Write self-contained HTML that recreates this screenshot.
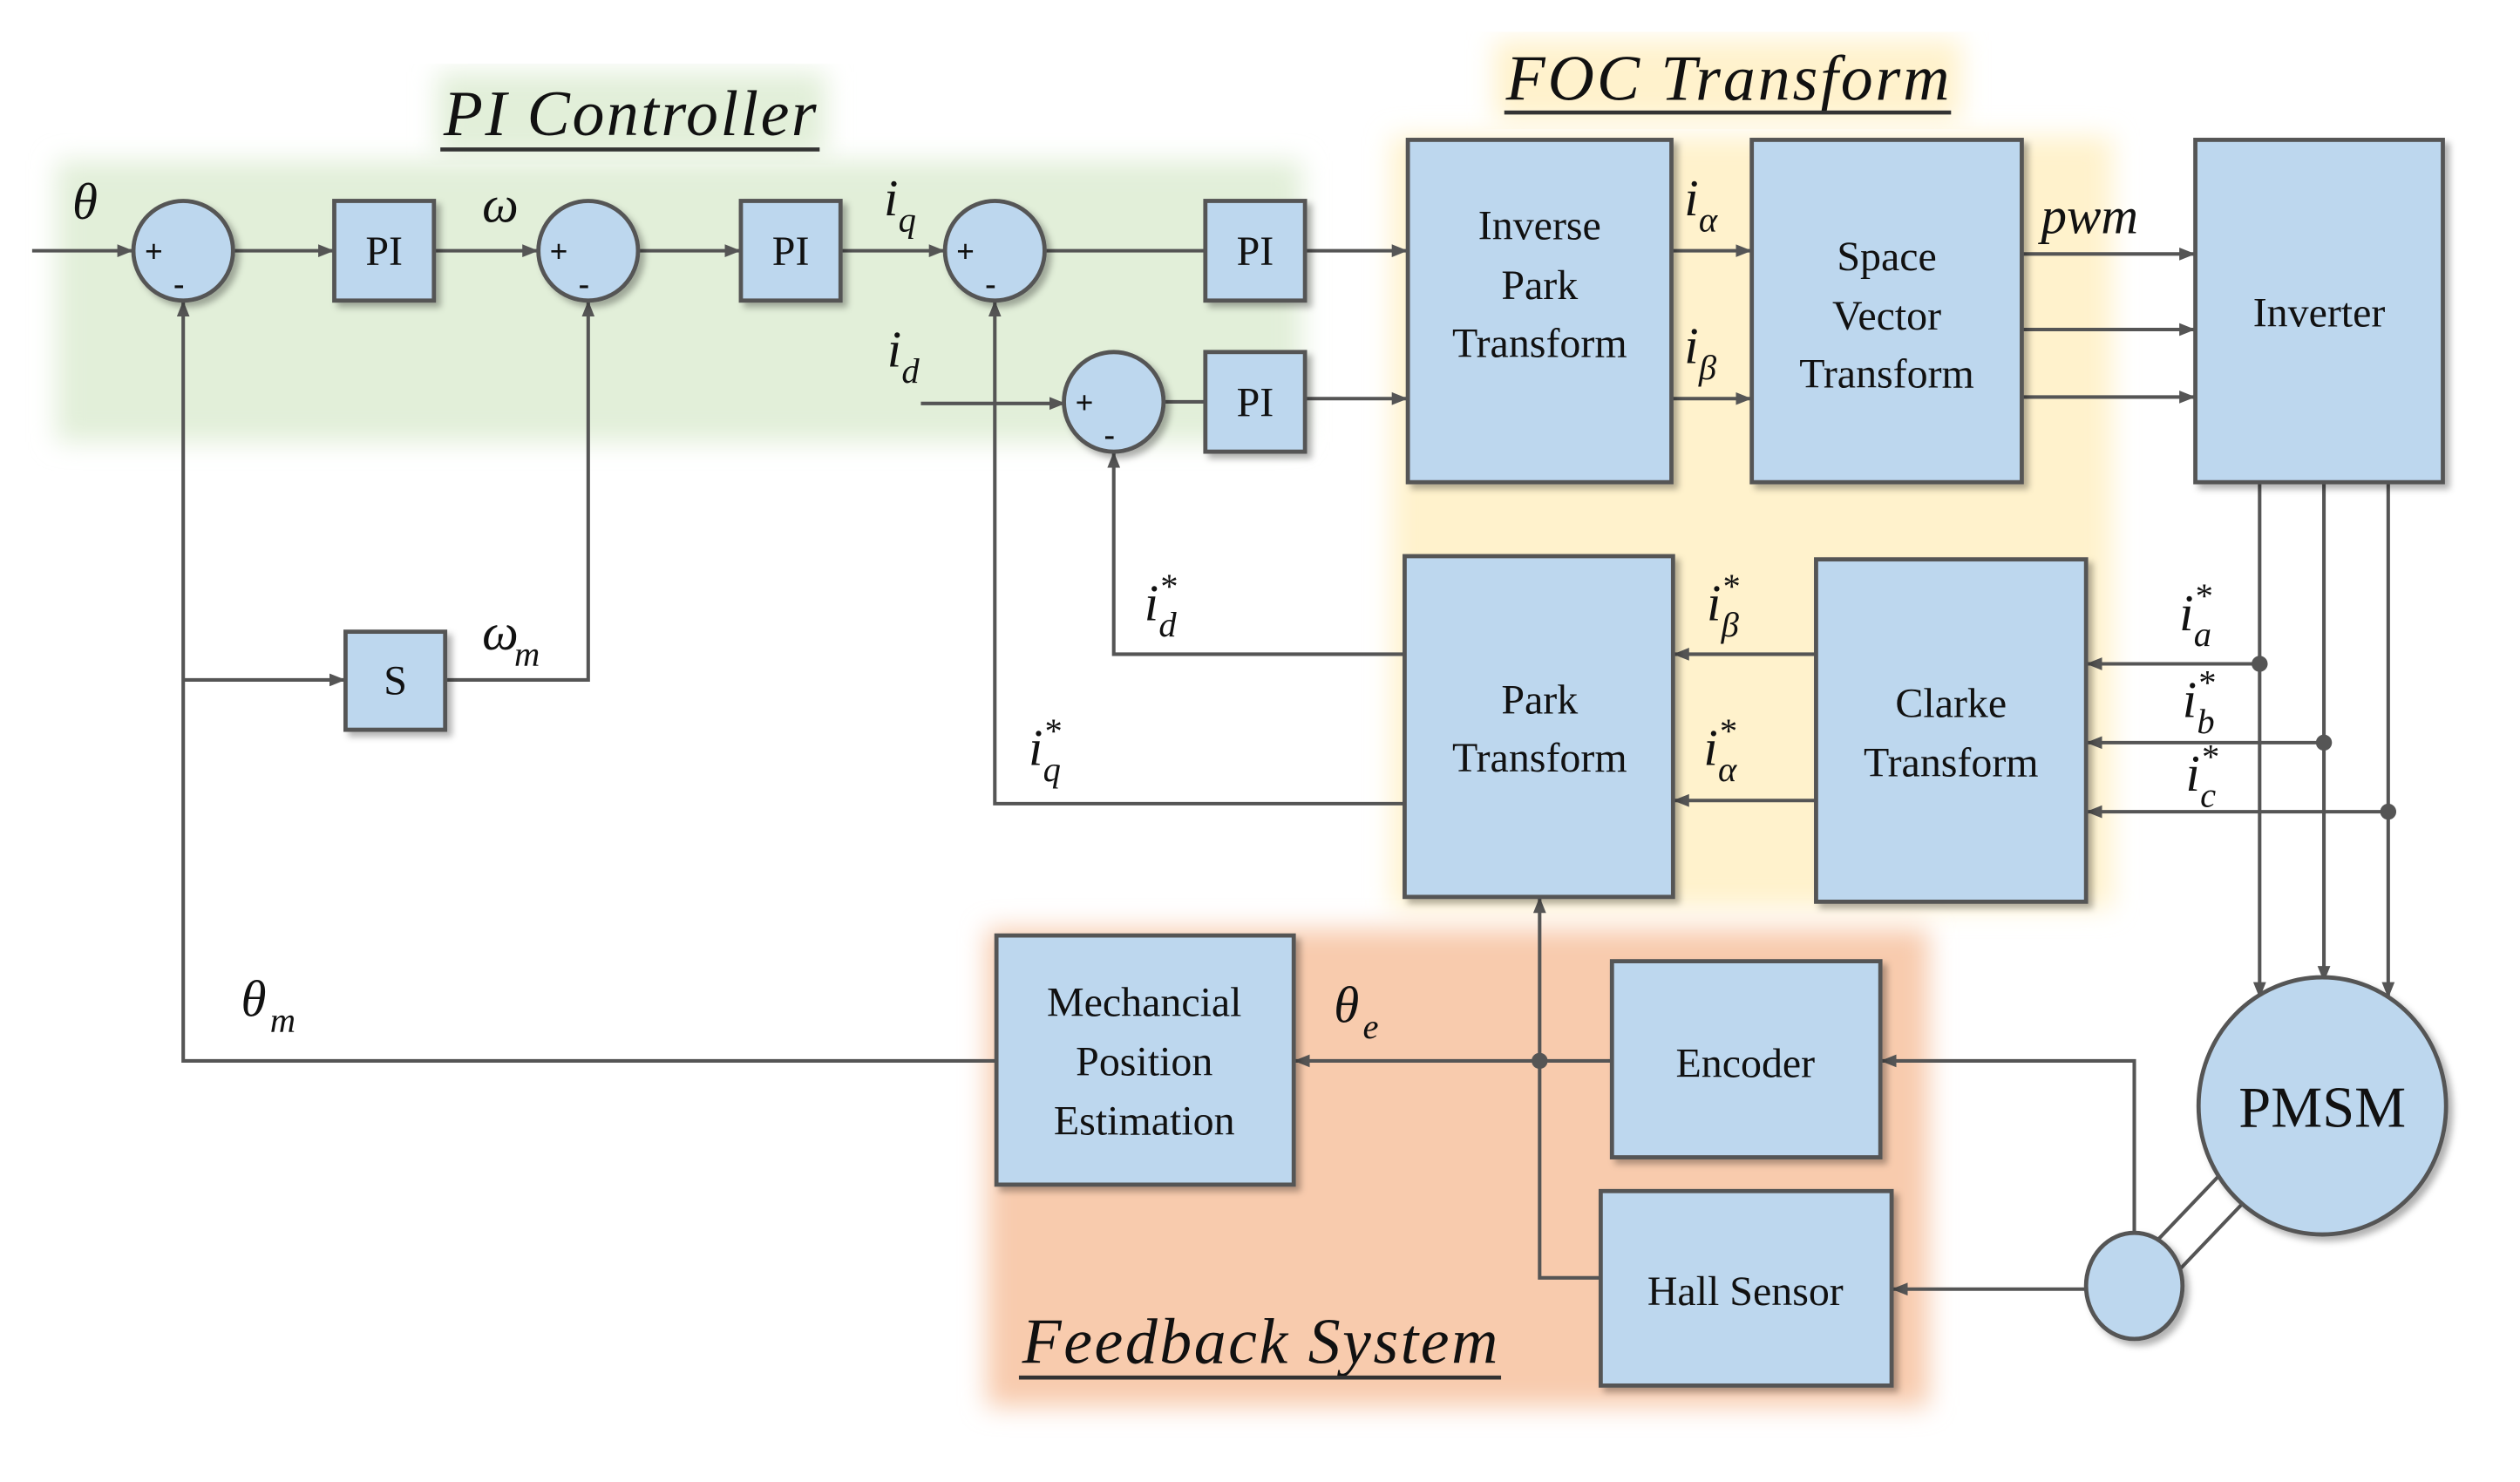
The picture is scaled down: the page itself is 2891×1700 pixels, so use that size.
<!DOCTYPE html>
<html><head><meta charset="utf-8"><style>
html,body{margin:0;padding:0;background:#fff;}
svg{display:block;}
text{font-family:"Liberation Serif",serif;fill:#111;}
.b{fill:#bdd7ee;stroke:#555;stroke-width:2.6;filter:url(#sh);}
.l{stroke:#555;stroke-width:2.2;fill:none;}
.t{font-size:26px;text-anchor:middle;}
.m{font-style:italic;font-size:32px;}
.s{font-style:italic;font-size:22px;}
</style></head><body>
<svg width="2891" height="1700" viewBox="0 0 1568 922" preserveAspectRatio="none" xmlns="http://www.w3.org/2000/svg">
<defs>
<marker id="a" markerWidth="10" markerHeight="10" refX="9" refY="5" orient="auto" markerUnits="userSpaceOnUse"><path d="M0,1 L10,5 L0,9 Z" fill="#555"/></marker>
<filter id="sh" x="-10%" y="-10%" width="130%" height="130%"><feDropShadow dx="3" dy="3" stdDeviation="2" flood-color="#000" flood-opacity="0.3"/></filter>
<filter id="bl"><feGaussianBlur stdDeviation="8"/></filter>
</defs>
<rect x="35" y="100" width="775" height="175" fill="#e2efd9" filter="url(#bl)"/>
<rect x="272" y="45" width="242" height="52" fill="#e2efd9" filter="url(#bl)"/>
<rect x="866" y="85" width="448" height="480" fill="#fff2cc" filter="url(#bl)"/>
<rect x="930" y="25" width="290" height="50" fill="#fff2cc" filter="url(#bl)"/>
<rect x="614" y="578" width="586" height="297" fill="#f8cbad" filter="url(#bl)"/>
<text x="392" y="84" font-size="40" font-style="italic" text-anchor="middle" textLength="232">PI Controller</text>
<line x1="274" y1="93" x2="510" y2="93" stroke="#333" stroke-width="2.5"/>
<text x="1075" y="62" font-size="40" font-style="italic" text-anchor="middle" textLength="276">FOC Transform</text>
<line x1="936" y1="70" x2="1214" y2="70" stroke="#333" stroke-width="2.5"/>
<text x="784" y="848" font-size="40" font-style="italic" text-anchor="middle" textLength="296">Feedback System</text>
<line x1="634" y1="857" x2="934" y2="857" stroke="#333" stroke-width="2.5"/>
<path class="l" d="M20,156 H82" marker-end="url(#a)"/>
<path class="l" d="M146,156 H207" marker-end="url(#a)"/>
<path class="l" d="M271,156 H334" marker-end="url(#a)"/>
<path class="l" d="M398,156 H460" marker-end="url(#a)"/>
<path class="l" d="M523,156 H587" marker-end="url(#a)"/>
<path class="l" d="M651,156 H750"/>
<path class="l" d="M573,251 H662" marker-end="url(#a)"/>
<path class="l" d="M724,250 H750"/>
<path class="l" d="M813,156 H875" marker-end="url(#a)"/>
<path class="l" d="M813,248 H875" marker-end="url(#a)"/>
<path class="l" d="M1041,156 H1089" marker-end="url(#a)"/>
<path class="l" d="M1041,248 H1089" marker-end="url(#a)"/>
<path class="l" d="M1259,158 H1365" marker-end="url(#a)"/>
<path class="l" d="M1259,205 H1365" marker-end="url(#a)"/>
<path class="l" d="M1259,247 H1365" marker-end="url(#a)"/>
<path class="l" d="M1406,301 V620" marker-end="url(#a)"/>
<path class="l" d="M1446,301 V610" marker-end="url(#a)"/>
<path class="l" d="M1486,301 V620" marker-end="url(#a)"/>
<path class="l" d="M1406,413 H1299" marker-end="url(#a)"/>
<path class="l" d="M1446,462 H1299" marker-end="url(#a)"/>
<path class="l" d="M1486,505 H1299" marker-end="url(#a)"/>
<circle cx="1406" cy="413" r="5" fill="#555"/><circle cx="1446" cy="462" r="5" fill="#555"/><circle cx="1486" cy="505" r="5" fill="#555"/>
<path class="l" d="M1129,407 H1042" marker-end="url(#a)"/>
<path class="l" d="M1129,498 H1042" marker-end="url(#a)"/>
<path class="l" d="M874,407 H693 V282" marker-end="url(#a)"/>
<path class="l" d="M874,500 H619 V188" marker-end="url(#a)"/>
<path class="l" d="M620,660 H114 V188" marker-end="url(#a)"/>
<path class="l" d="M114,423 H214" marker-end="url(#a)"/>
<path class="l" d="M278,423 H366 V188" marker-end="url(#a)"/>
<path class="l" d="M1002,660 H806" marker-end="url(#a)"/>
<circle cx="958" cy="660" r="5" fill="#555"/>
<path class="l" d="M996,795 H958 V559" marker-end="url(#a)"/>
<path class="l" d="M1328,768 V660 H1171" marker-end="url(#a)"/>
<path class="l" d="M1298,802 H1178" marker-end="url(#a)"/>
<path class="l" d="M1342,772 L1384,728 M1356,790 L1398,746"/>
<ellipse class="b" cx="114" cy="156" rx="31" ry="31"/>
<ellipse class="b" cx="366" cy="156" rx="31" ry="31"/>
<ellipse class="b" cx="619" cy="156" rx="31" ry="31"/>
<ellipse class="b" cx="693" cy="250" rx="31" ry="31"/>
<g font-size="20" font-weight="bold" fill="#444">
<text x="90" y="163">+</text><text x="108" y="183">-</text>
<text x="342" y="163">+</text><text x="360" y="183">-</text>
<text x="595" y="163">+</text><text x="613" y="183">-</text>
<text x="669" y="257">+</text><text x="687" y="277">-</text>
</g>
<rect class="b" x="208" y="125" width="62" height="62"/>
<rect class="b" x="461" y="125" width="62" height="62"/>
<rect class="b" x="750" y="125" width="62" height="62"/>
<rect class="b" x="750" y="219" width="62" height="62"/>
<rect class="b" x="215" y="393" width="62" height="61"/>
<rect class="b" x="876" y="87" width="164" height="213"/>
<rect class="b" x="1090" y="87" width="168" height="213"/>
<rect class="b" x="1366" y="87" width="154" height="213"/>
<rect class="b" x="874" y="346" width="167" height="212"/>
<rect class="b" x="1130" y="348" width="168" height="213"/>
<rect class="b" x="620" y="582" width="185" height="155"/>
<rect class="b" x="1003" y="598" width="167" height="122"/>
<rect class="b" x="996" y="741" width="181" height="121"/>
<ellipse class="b" cx="1445" cy="688" rx="77" ry="80"/>
<ellipse class="b" cx="1328" cy="800" rx="30" ry="33"/>
<text class="t" x="239" y="165">PI</text>
<text class="t" x="492" y="165">PI</text>
<text class="t" x="781" y="165">PI</text>
<text class="t" x="781" y="259">PI</text>
<text class="t" x="246" y="432">S</text>
<text class="t" x="958" y="149">Inverse</text><text class="t" x="958" y="186">Park</text><text class="t" x="958" y="222">Transform</text>
<text class="t" x="1174" y="168">Space</text><text class="t" x="1174" y="205">Vector</text><text class="t" x="1174" y="241">Transform</text>
<text class="t" x="1443" y="203">Inverter</text>
<text class="t" x="958" y="444">Park</text><text class="t" x="958" y="480">Transform</text>
<text class="t" x="1214" y="446">Clarke</text><text class="t" x="1214" y="483">Transform</text>
<text class="t" x="712" y="632">Mechancial</text><text class="t" x="712" y="669">Position</text><text class="t" x="712" y="706">Estimation</text>
<text class="t" x="1086" y="670">Encoder</text>
<text class="t" x="1086" y="812">Hall  Sensor</text>
<text x="1445" y="701" font-size="36" text-anchor="middle">PMSM</text>
<text class="m" x="45" y="136">θ</text>
<text class="m" x="300" y="138">ω</text>
<text class="m" x="550" y="134">i</text><text class="s" x="559" y="144">q</text>
<text class="m" x="552" y="228">i</text><text class="s" x="561" y="238">d</text>
<text class="m" x="300" y="404">ω</text><text class="s" x="320" y="414">m</text>
<text class="m" x="150" y="632">θ</text><text class="s" x="168" y="642">m</text>
<text class="m" x="830" y="636">θ</text><text class="s" x="848" y="646">e</text>
<text class="m" x="1048" y="134">i</text><text class="s" x="1057" y="144">α</text>
<text class="m" x="1048" y="226">i</text><text class="s" x="1057" y="236">β</text>
<text class="m" x="1270" y="145">pwm</text>
<text class="m" x="712" y="386">i</text><text class="s" x="721" y="372">*</text><text class="s" x="721" y="396">d</text>
<text class="m" x="640" y="476">i</text><text class="s" x="649" y="462">*</text><text class="s" x="649" y="486">q</text>
<text class="m" x="1062" y="386">i</text><text class="s" x="1071" y="372">*</text><text class="s" x="1071" y="396">β</text>
<text class="m" x="1060" y="476">i</text><text class="s" x="1069" y="462">*</text><text class="s" x="1069" y="486">α</text>
<text class="m" x="1356" y="392">i</text><text class="s" x="1365" y="378">*</text><text class="s" x="1365" y="402">a</text>
<text class="m" x="1358" y="446">i</text><text class="s" x="1367" y="432">*</text><text class="s" x="1367" y="456">b</text>
<text class="m" x="1360" y="492">i</text><text class="s" x="1369" y="478">*</text><text class="s" x="1369" y="502">c</text>
</svg>
</body></html>
